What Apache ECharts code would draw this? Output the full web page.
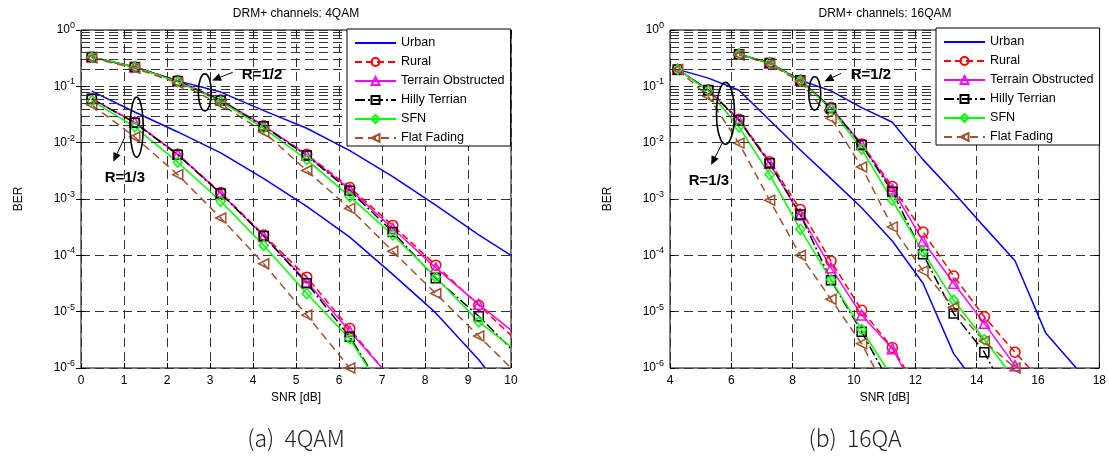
<!DOCTYPE html>
<html><head><meta charset="utf-8">
<script src="https://cdn.jsdelivr.net/npm/echarts@6/dist/echarts.min.js"></script>
<style>html,body{margin:0;padding:0;background:#fff;}#c{width:1109px;height:458px;}</style>
</head><body><div id="c"></div>
<script>
// ---------- data (SNR dB, BER) ----------
const channelNames = ['Urban','Rural','Terrain Obstructed','Hilly Terrian','SFN','Flat Fading'];
const xTicks4 = [0,10,1];
const xTicks16 = [4,18,2];
const titles = ['DRM+ channels: 4QAM','DRM+ channels: 16QAM'];
const captions = ['(a)  4QAM','(b)  16QA'];

// 4QAM, R=1/2
const q4_r12_Urban   = [[0.25,0.33],[1.25,0.22],[2.25,0.125],[3.25,0.079],[4.25,0.037],[5.25,0.018],[6.25,0.0072],[7.25,0.0025],[8.25,7.8e-4],[9.25,2.3e-4],[10,1.0e-4]];
const q4_r12_Rural   = [[0.25,0.33],[1.25,0.22],[2.25,0.125],[3.25,0.057],[4.25,0.020],[5.25,0.0062],[6.25,0.0016],[7.25,3.4e-4],[8.25,6.7e-5],[9.25,1.3e-5],[10,3.8e-6]];
const q4_r12_Terrain = [[0.25,0.33],[1.25,0.22],[2.25,0.125],[3.25,0.057],[4.25,0.020],[5.25,0.0060],[6.25,0.0015],[7.25,3.0e-4],[8.25,6.0e-5],[9.25,1.35e-5],[10,4.7e-6]];
const q4_r12_Hilly   = [[0.25,0.33],[1.25,0.22],[2.25,0.124],[3.25,0.056],[4.25,0.0195],[5.25,0.0059],[6.25,0.0014],[7.25,2.6e-4],[8.25,3.9e-5],[9.25,8.3e-6],[10,2.2e-6]];
const q4_r12_SFN     = [[0.25,0.33],[1.25,0.22],[2.25,0.12],[3.25,0.054],[4.25,0.018],[5.25,0.005],[6.25,0.0011],[7.25,2.3e-4],[8.25,4.1e-5],[9.25,6.6e-6],[10,2.4e-6]];
const q4_r12_Flat    = [[0.25,0.32],[1.25,0.21],[2.25,0.115],[3.25,0.048],[4.25,0.0155],[5.25,0.0032],[6.25,6.8e-4],[7.25,1.18e-4],[8.25,2.1e-5],[9.25,3.7e-6],[10,1.0e-6]];
// 4QAM, R=1/3
const q4_r13_Urban   = [[0.25,0.082],[1.25,0.035],[2.25,0.0155],[3.25,6.6e-3],[4.25,2.3e-3],[5.25,7.4e-4],[6.25,2.1e-4],[7.25,4.6e-5],[8.25,9.5e-6],[9.25,1.4e-6],[9.4,1e-6]];
const q4_r13_Rural   = [[0.25,0.060],[1.25,0.023],[2.25,0.0062],[3.25,1.3e-3],[4.25,2.3e-4],[5.25,4.1e-5],[6.25,5e-6],[7.0,1e-6]];
const q4_r13_Terrain = [[0.25,0.060],[1.25,0.023],[2.25,0.0062],[3.25,1.25e-3],[4.25,2.2e-4],[5.25,3.4e-5],[6.25,4.5e-6],[7.0,1e-6]];
const q4_r13_Hilly   = [[0.25,0.060],[1.25,0.0226],[2.25,0.0061],[3.25,1.25e-3],[4.25,2.2e-4],[5.25,3.2e-5],[6.25,3.6e-6],[6.7,1e-6]];
const q4_r13_SFN     = [[0.25,0.056],[1.25,0.019],[2.25,0.0045],[3.25,9.1e-4],[4.25,1.5e-4],[5.25,2.1e-5],[6.25,3.3e-6],[6.68,1e-6]];
const q4_r13_Flat    = [[0.25,0.047],[1.25,0.0126],[2.25,0.0027],[3.25,4.6e-4],[4.25,7.1e-5],[5.25,8.7e-6],[6.25,1.0e-6]];
// 16QAM, R=1/2
const q16_r12_Urban   = [[6.25,0.37],[7.25,0.26],[8.25,0.128],[9.25,0.083],[10.25,0.042],[11.25,0.023],[12.25,5e-3],[13.25,1.3e-3],[14.25,3.2e-4],[15.25,8e-5],[16.25,4.2e-6],[17.25,1e-6]];
const q16_r12_Rural   = [[6.25,0.37],[7.25,0.26],[8.25,0.128],[9.25,0.042],[10.25,0.0095],[11.25,1.66e-3],[12.25,2.6e-4],[13.25,4.3e-5],[14.25,8.1e-6],[15.25,1.9e-6],[15.72,1e-6]];
const q16_r12_Terrain = [[6.25,0.37],[7.25,0.26],[8.25,0.128],[9.25,0.042],[10.25,0.0093],[11.25,1.5e-3],[12.25,1.8e-4],[13.25,3.2e-5],[14.25,6.2e-6],[15.25,1.1e-6],[15.35,1e-6]];
const q16_r12_Hilly   = [[6.25,0.37],[7.25,0.26],[8.25,0.128],[9.25,0.041],[10.25,0.0091],[11.25,1.35e-3],[12.25,1.05e-4],[13.25,9.3e-6],[14.25,1.9e-6],[14.52,1e-6]];
const q16_r12_SFN     = [[6.25,0.37],[7.25,0.26],[8.25,0.125],[9.25,0.040],[10.25,0.0077],[11.25,9.5e-4],[12.25,1.15e-4],[13.25,1.6e-5],[14.25,3.2e-6],[14.96,1e-6]];
const q16_r12_Flat    = [[6.25,0.36],[7.25,0.25],[8.25,0.12],[9.25,0.027],[10.25,0.0037],[11.25,3.2e-4],[12.25,5.3e-5],[13.25,1.2e-5],[14.25,3e-6],[15.25,1e-6]];
// 16QAM, R=1/3
const q16_r13_Urban   = [[4.25,0.2],[5.25,0.14],[6.25,0.085],[7.25,0.025],[8.25,7.4e-3],[9.25,2.3e-3],[10.25,7.0e-4],[11.25,1.8e-4],[12.25,3.2e-5],[13.25,1.8e-6],[13.6,1e-6]];
const q16_r13_Rural   = [[4.25,0.2],[5.25,0.086],[6.25,0.026],[7.25,0.0046],[8.25,6.5e-4],[9.25,7.9e-5],[10.25,1.06e-5],[11.25,2.3e-6],[11.65,1e-6]];
const q16_r13_Terrain = [[4.25,0.2],[5.25,0.086],[6.25,0.025],[7.25,0.0043],[8.25,5.2e-4],[9.25,6.0e-5],[10.25,8.7e-6],[11.25,2.2e-6],[11.6,1e-6]];
const q16_r13_Hilly   = [[4.25,0.2],[5.25,0.086],[6.25,0.025],[7.25,0.0043],[8.25,5.3e-4],[9.25,3.6e-5],[10.25,4.4e-6],[10.9,1e-6]];
const q16_r13_SFN     = [[4.25,0.2],[5.25,0.083],[6.25,0.019],[7.25,0.0027],[8.25,2.9e-4],[9.25,3.7e-5],[10.25,4.8e-6],[11.05,1e-6]];
const q16_r13_Flat    = [[4.25,0.2],[5.25,0.066],[6.25,0.0098],[7.25,9.5e-4],[8.25,1.0e-4],[9.25,1.66e-5],[10.25,2.7e-6],[10.67,1e-6]];

// annotations in data coordinates [snr, ber]
const annEllipses = [
  {g:0, c:[2.88,0.078], rx:6.5, ry:18.5},
  {g:0, c:[1.295,0.0189], rx:6.5, ry:30},
  {g:1, c:[8.72,0.0748], rx:6, ry:16.7},
  {g:1, c:[5.81,0.0331], rx:9, ry:31}
];
const annArrows = [
  {g:0, from:[3.53,0.178], to:[3.05,0.127]},
  {g:0, from:[1.02,0.0126], to:[0.75,0.00457]},
  {g:1, from:[9.58,0.17], to:[9.04,0.123]},
  {g:1, from:[5.73,0.0105], to:[5.34,0.0040]}
];
const annTexts = [
  {g:0, at:[4.21,0.162], text:'R=1/2'},
  {g:0, at:[1.02,0.0024], text:'R=1/3'},
  {g:1, at:[10.55,0.162], text:'R=1/2'},
  {g:1, at:[5.27,0.00214], text:'R=1/3'}
];

// ---------- styles ----------
const FONT = 'Liberation Sans, Arial, sans-serif';
const STY = {
  'Urban':              {c:'#0000ff', t:'solid',        s:'none'},
  'Rural':              {c:'#ff0000', t:[7,4],          s:'circle', size:10},
  'Terrain Obstructed': {c:'#ff00ff', t:'solid',        s:'triangle', size:10},
  'Hilly Terrian':      {c:'#000000', t:[10,3,2,3],     s:'rect', size:9},
  'SFN':                {c:'#00ff00', t:'solid',        s:'diamond', size:[9,10]},
  'Flat Fading':        {c:'#a0522d', t:[8,5],          s:'triangle', size:10, rot:90}
};
const isMarker = x => Math.abs((x % 1) - 0.25) < 1e-6;

function mk(name, pts, gi) {
  const st = STY[name];
  return {
    name, type:'line', xAxisIndex:gi, yAxisIndex:gi,
    data: pts.map(p => ({value:p, symbol: isMarker(p[0]) ? st.s : 'none'})),
    symbol: st.s, symbolSize: st.size || 8, symbolRotate: st.rot || 0,
    showSymbol: true, showAllSymbol: true, clip: true,
    lineStyle: {color: st.c, width: 1.5, type: st.t},
    itemStyle: {color: 'rgba(255,255,255,0)', borderColor: st.c, borderWidth: 1.5},
    emphasis: {disabled: true}, animation: false, z: 3
  };
}

const sets = [
  [0, [q4_r12_Urban,q4_r12_Rural,q4_r12_Terrain,q4_r12_Hilly,q4_r12_SFN,q4_r12_Flat]],
  [0, [q4_r13_Urban,q4_r13_Rural,q4_r13_Terrain,q4_r13_Hilly,q4_r13_SFN,q4_r13_Flat]],
  [1, [q16_r12_Urban,q16_r12_Rural,q16_r12_Terrain,q16_r12_Hilly,q16_r12_SFN,q16_r12_Flat]],
  [1, [q16_r13_Urban,q16_r13_Rural,q16_r13_Terrain,q16_r13_Hilly,q16_r13_SFN,q16_r13_Flat]]
];
const series = [];
// minor log grid lines (2..9 x 10^k)
const minorVals = [];
for (let e = -6; e < 0; e++) for (let m = 2; m <= 9; m++) minorVals.push(m * Math.pow(10, e));
const GRIDLINE = {color:'#333', width:1, type:[9,5]};
[0,1].forEach(g => series.push({
  name:'_grid'+g, type:'line', xAxisIndex:g, yAxisIndex:g, data:[], z:1, silent:true, animation:false,
  markLine:{silent:true, symbol:['none','none'], label:{show:false}, lineStyle:GRIDLINE, animation:false,
    data: minorVals.map(v => ({yAxis:v}))}
}));
channelNames.forEach((n, i) => sets.forEach(([g, arr]) => series.push(mk(n, arr[i], g))));

const grids = [
  {left:81, top:30, width:430, height:338},
  {left:670, top:30, width:430, height:338}
].map(o => Object.assign(o, {show:true, borderColor:'#000', borderWidth:1, backgroundColor:'transparent'}));

function xAx(g, t, top) {
  return {
    gridIndex:g, type:'value', min:t[0], max:t[1], interval:t[2], position: top ? 'top' : 'bottom',
    axisLine:{show:false},
    axisTick:{show:true, inside:true, length:5, lineStyle:{color:'#000'}},
    axisLabel:{show:!top, color:'#000', fontSize:12, fontFamily:FONT, margin:7},
    splitLine:{show:!top, lineStyle:GRIDLINE},
    name: top ? '' : 'SNR [dB]', nameLocation:'middle', nameGap:21,
    nameTextStyle:{color:'#000', fontSize:12, fontFamily:FONT}
  };
}
function yAx(g, right, gap) {
  return {
    gridIndex:g, type:'log', logBase:10, min:1e-6, max:1, position: right ? 'right' : 'left',
    axisLine:{show:false},
    axisTick:{show:true, inside:true, length:5, lineStyle:{color:'#000'}},
    axisLabel:{show:!right, margin:6, fontFamily:FONT,
      formatter: v => '{b|10}{s|' + Math.round(Math.log10(v)) + '}',
      rich:{b:{fontSize:12, color:'#000', fontFamily:FONT},
            s:{fontSize:9, color:'#000', fontFamily:FONT, padding:[0,0,9,0]}}},
    splitLine:{show:!right, lineStyle:GRIDLINE},
    name: right ? '' : 'BER', nameLocation:'middle', nameGap:gap, nameRotate:90,
    nameTextStyle:{color:'#000', fontSize:12, fontFamily:FONT}
  };
}

const legendData = channelNames.map(n => n === 'Urban'
  ? {name:n, itemStyle:{color:'rgba(0,0,0,0)', borderColor:'rgba(0,0,0,0)', borderWidth:0, opacity:0}}
  : {name:n});
const legendBase = {
  orient:'vertical', data:legendData, itemWidth:41, itemHeight:10, itemGap:5,
  backgroundColor:'#fff', borderColor:'#000', borderWidth:1, borderRadius:0,
  padding:[7,6,1,7], selectedMode:false, z:10,
  textStyle:{fontSize:12.6, color:'#000', fontFamily:FONT, lineHeight:14}
};

const chart = echarts.init(document.getElementById('c'));
chart.setOption({
  animation:false,
  grid: grids,
  xAxis: [xAx(0,xTicks4,false), xAx(1,xTicks16,false), xAx(0,xTicks4,true), xAx(1,xTicks16,true)],
  yAxis: [yAx(0,false,56), yAx(1,false,56), yAx(0,true,0), yAx(1,true,0)],
  legend: [Object.assign({left:347, top:29}, legendBase), Object.assign({left:936, top:28}, legendBase)],
  series
});

// ---------- annotations & texts ----------
const graphic = [];
const px = (g, p) => chart.convertToPixel({xAxisIndex:g, yAxisIndex:g}, p);
annEllipses.forEach(a => {
  const c = px(a.g, a.c);
  graphic.push({type:'ellipse', shape:{cx:c[0], cy:c[1], rx:a.rx, ry:a.ry}, style:{fill:'none', stroke:'#000', lineWidth:1.6}, z:20});
});
annArrows.forEach(a => {
  const f = px(a.g, a.from), t = px(a.g, a.to);
  const dx = t[0]-f[0], dy = t[1]-f[1], L = Math.hypot(dx,dy), ux = dx/L, uy = dy/L;
  const hl = 9, hw = 4;
  const bx = t[0]-ux*hl, by = t[1]-uy*hl;
  graphic.push({type:'line', shape:{x1:f[0], y1:f[1], x2:bx, y2:by}, style:{stroke:'#000', lineWidth:1}, z:20});
  graphic.push({type:'polygon', shape:{points:[[t[0],t[1]],[bx-uy*hw,by+ux*hw],[bx+uy*hw,by-ux*hw]]}, style:{fill:'#000'}, z:20});
});
annTexts.forEach(a => {
  const c = px(a.g, a.at);
  graphic.push({type:'text', z:20, style:{text:a.text, x:c[0], y:c[1], textAlign:'center', textVerticalAlign:'middle', font:'bold 15px ' + FONT, fill:'#000'}});
});
[296, 885].forEach((x, i) => graphic.push({type:'text', z:20, style:{text:titles[i], x, y:14, textAlign:'center', textVerticalAlign:'middle', font:'12px ' + FONT, fill:'#000'}}));
[296, 855].forEach((x, i) => graphic.push({type:'text', z:20, style:{text:captions[i], x, y:438, textAlign:'center', textVerticalAlign:'middle', font:'300 23px "Noto Sans CJK KR", "Noto Sans", sans-serif', fill:'#222'}}));
chart.setOption({graphic});
</script></body></html>
